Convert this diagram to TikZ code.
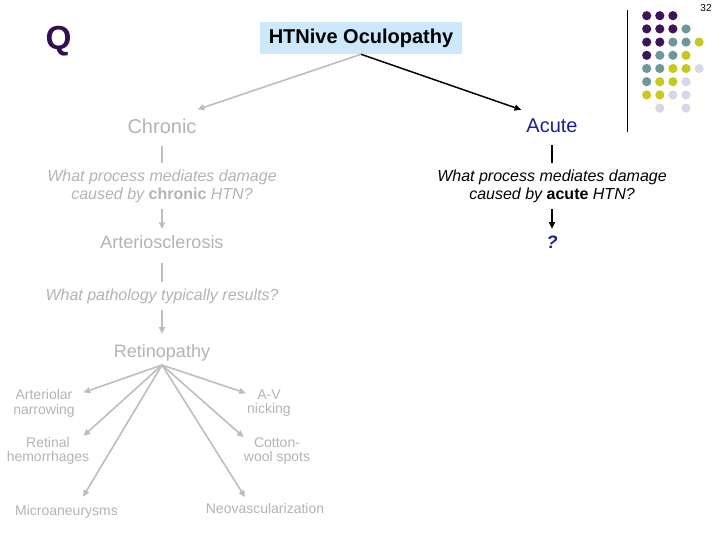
\documentclass[tikz,border=0pt]{standalone}
\usepackage{fontspec}
\setmainfont{Liberation Sans}
\usetikzlibrary{arrows.meta}

\definecolor{fadegrey}{RGB}{180,180,180}
\definecolor{linegrey}{RGB}{190,190,190}
\definecolor{acuteblue}{RGB}{30,30,150}
\definecolor{titleblue}{RGB}{204,232,250}
\definecolor{qpurple}{RGB}{50,15,85}
\definecolor{dotpurple}{RGB}{61,20,90}
\definecolor{dotteal}{RGB}{111,150,155}
\definecolor{dotyellow}{RGB}{200,200,30}
\definecolor{dotlilac}{RGB}{215,215,232}

\begin{document}
\begin{tikzpicture}[x=0.75pt, y=-0.75pt, inner sep=0pt,
    >={Triangle[length=5pt,width=4.5pt]},
    big/.style={font=\fontsize{15}{18}\selectfont},
    mid/.style={font=\fontsize{13.5}{16}\selectfont},
    ask/.style={font=\fontsize{12}{13.5}\selectfont\itshape, align=center},
    small/.style={font=\fontsize{10.5}{11}\selectfont, align=center, text=fadegrey},
    gline/.style={draw=linegrey, line width=1.2pt},
    kline/.style={draw=black, line width=1.1pt}]
    \useasboundingbox (0,0) rectangle (720,540);
    \fill[white] (0,0) rectangle (720,540);

    % Corner decoration
    \node[font=\fontsize{25}{28}\selectfont\bfseries, text=qpurple] (q) at (58.5,41) {Q};
    \node[font=\fontsize{7.5}{9}\selectfont] (page) at (706,8) {32};
    \draw (627,10) -- (627,132);
    \foreach \col/\row/\shade in {0/0/dotpurple, 1/0/dotpurple, 2/0/dotpurple,
        0/1/dotpurple, 1/1/dotpurple, 2/1/dotpurple, 3/1/dotteal,
        0/2/dotpurple, 1/2/dotpurple, 2/2/dotteal, 3/2/dotteal, 4/2/dotyellow,
        0/3/dotpurple, 1/3/dotteal, 2/3/dotteal, 3/3/dotyellow,
        0/4/dotteal, 1/4/dotteal, 2/4/dotyellow, 3/4/dotyellow, 4/4/dotlilac,
        0/5/dotteal, 1/5/dotyellow, 2/5/dotyellow, 3/5/dotlilac,
        0/6/dotyellow, 1/6/dotyellow, 2/6/dotlilac, 3/6/dotlilac,
        1/7/dotlilac, 3/7/dotlilac}
      \fill[\shade] (646.7+13.1*\col, 15.7+13.2*\row) circle (3.45pt);

    % Title
    \node[fill=titleblue, minimum width=151.5pt, minimum height=24pt,
      font=\fontsize{15}{18}\selectfont\bfseries] (title) at (361,38) {HTNive Oculopathy};

    % Chronic branch
    \node[big, text=fadegrey] (chronic) at (162,126) {Chronic};
    \node[ask, text=fadegrey] (whychronic) at (162,186)
      {What process mediates damage\\caused by {\upshape\bfseries chronic} HTN?};
    \node[mid, text=fadegrey] (sclerosis) at (162,242.5) {Arteriosclerosis};
    \node[ask, text=fadegrey] (whypath) at (162,296) {What pathology typically results?};
    \node[mid, text=fadegrey] (retino) at (162,352.5) {Retinopathy};

    % Acute branch
    \node[big, text=acuteblue] (acute) at (552,126) {Acute};
    \node[ask] (whyacute) at (552,186)
      {What process mediates damage\\caused by {\upshape\bfseries acute} HTN?};
    \node[mid, font=\fontsize{13.5}{16}\selectfont\bfseries\itshape, text=acuteblue] (unknown) at (552,242) {?};

    % Findings
    \node[small] (narrowing) at (44,403.5) {Arteriolar\\narrowing};
    \node[small] (hemorrhage) at (48,451) {Retinal\\hemorrhages};
    \node[small] (micro) at (66.5,511.5) {Microaneurysms};
    \node[small] (nicking) at (269,403) {A-V\\nicking};
    \node[small] (cotton) at (277,451) {Cotton-\\wool spots};
    \node[small] (neo) at (265,508.5) {Neovascularization};

    % Connectors
    \draw[gline,->] (title.south) -- ([shift={(1,-9)}]chronic.north east);
    \draw[kline,->] (title.south) -- ([shift={(-5,-9)}]acute.north west);

    \draw[gline, shorten <=9pt, shorten >=4.5pt] (chronic) -- (whychronic);
    \draw[gline,->, shorten <=5pt, shorten >=5pt] (whychronic) -- (sclerosis);
    \draw[gline, shorten <=10.5pt, shorten >=5pt] (sclerosis) -- (whypath);
    \draw[gline,->, shorten <=4.5pt, shorten >=7.5pt] (whypath) -- (retino);

    \draw[kline, shorten <=9pt, shorten >=4.5pt] (acute) -- (whyacute);
    \draw[kline,->, shorten <=5pt, shorten >=5pt] (whyacute) -- (unknown);

    \coordinate (fan) at (162,365);
    \draw[gline,->] (fan) -- ([shift={(8.5,3)}]narrowing.north east);
    \draw[gline,->] (fan) -- ([shift={(-6,-1)}]hemorrhage.north east);
    \draw[gline,->] (fan) -- ([shift={(16.5,-8)}]micro.north);
    \draw[gline,->] (fan) -- ([shift={(-1,4)}]nicking.north west);
    \draw[gline,->] (fan) -- (cotton.north west);
    \draw[gline,->] (fan) -- ([shift={(-20,-6)}]neo.north);

\end{tikzpicture}
\end{document}
